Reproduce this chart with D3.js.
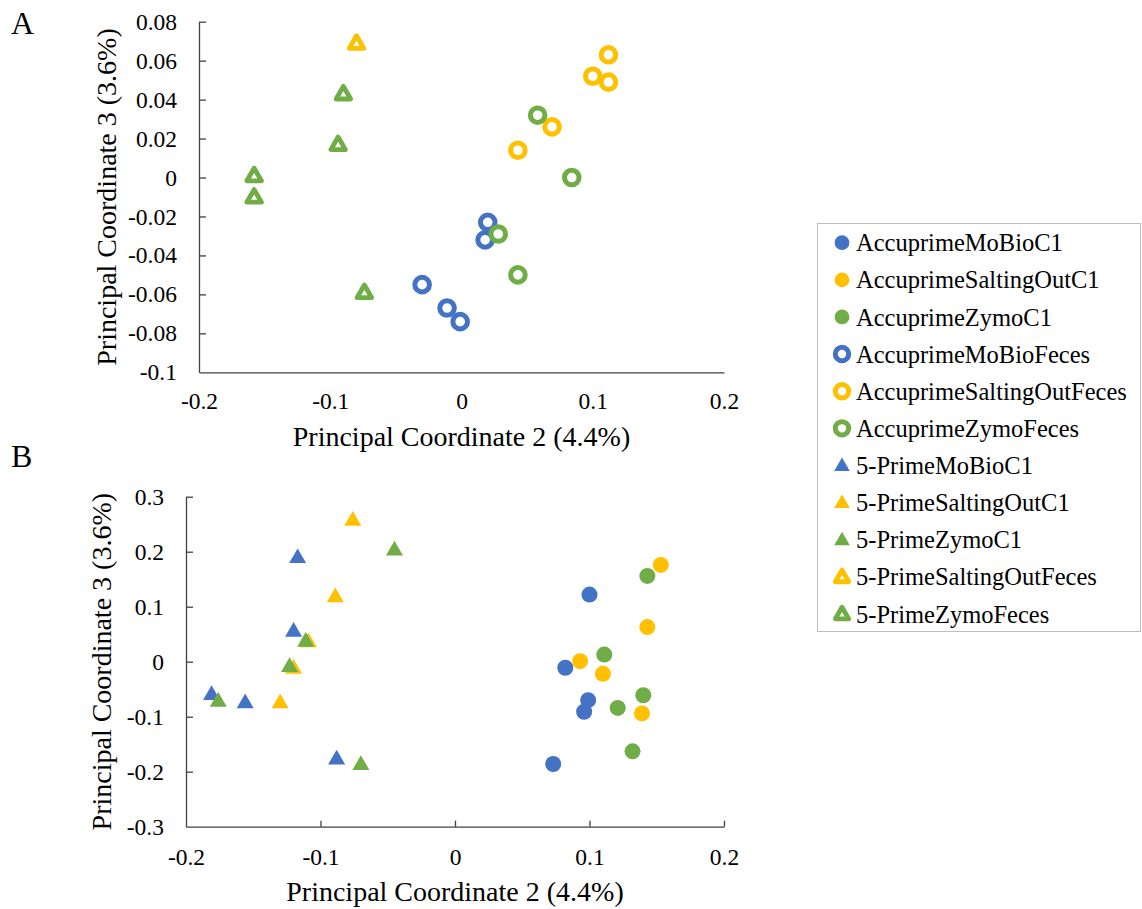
<!DOCTYPE html>
<html>
<head>
<meta charset="utf-8">
<script src="https://cdn.jsdelivr.net/npm/d3@7"></script>
<style>
  body { margin: 0; background: #fff; }
  svg text { font-family: "Liberation Serif", "Times New Roman", serif; fill: #000; }
  .tick text { font-size: 23.5px; }
</style>
</head>
<body>
<div id="chart"></div>
<script>
// series names, in legend order
const seriesNames = [
  "AccuprimeMoBioC1", "AccuprimeSaltingOutC1", "AccuprimeZymoC1",
  "AccuprimeMoBioFeces", "AccuprimeSaltingOutFeces", "AccuprimeZymoFeces",
  "5-PrimeMoBioC1", "5-PrimeSaltingOutC1", "5-PrimeZymoC1",
  "5-PrimeSaltingOutFeces", "5-PrimeZymoFeces"
];

// panel A values [PC2, PC3]
const aMoBioFeces = [[0.020, -0.023], [0.018, -0.032], [-0.030, -0.055], [-0.011, -0.067], [-0.001, -0.074]];
const aSaltingOutFeces = [[0.112, 0.063], [0.100, 0.052], [0.112, 0.049], [0.069, 0.026], [0.043, 0.014]];
const aZymoFeces = [[0.058, 0.032], [0.084, 0.000], [0.028, -0.029], [0.043, -0.050]];
const pSaltingOutFecesA = [[-0.080, 0.069]];
const pZymoFecesA = [[-0.090, 0.043], [-0.094, 0.017], [-0.158, 0.001], [-0.158, -0.010], [-0.074, -0.059]];

// panel B values [PC2, PC3]
const bMoBioC1 = [[0.100, 0.122], [0.082, -0.011], [0.099, -0.070], [0.096, -0.091], [0.073, -0.186]];
const bSaltingOutC1 = [[0.153, 0.176], [0.143, 0.063], [0.093, 0.001], [0.110, -0.022], [0.139, -0.094]];
const bZymoC1 = [[0.143, 0.156], [0.111, 0.013], [0.140, -0.061], [0.121, -0.084], [0.132, -0.163]];
const pMoBioC1 = [[-0.117, 0.190], [-0.120, 0.056], [-0.181, -0.059], [-0.156, -0.074], [-0.088, -0.176]];
const pSaltingOutC1 = [[-0.076, 0.258], [-0.089, 0.119], [-0.109, 0.037], [-0.120, -0.011], [-0.130, -0.074]];
const pZymoC1 = [[-0.045, 0.204], [-0.111, 0.038], [-0.123, -0.008], [-0.176, -0.071], [-0.070, -0.186]];

const xTicks = [-0.2, -0.1, 0, 0.1, 0.2];
const yTicksA = [-0.1, -0.08, -0.06, -0.04, -0.02, 0, 0.02, 0.04, 0.06, 0.08];
const yTicksB = [-0.3, -0.2, -0.1, 0, 0.1, 0.2, 0.3];

const xTitle = "Principal Coordinate 2 (4.4%)";
const yTitle = "Principal Coordinate 3 (3.6%)";

// marker style per series
const BLUE = "#4472C4", ORANGE = "#FFC000", GREEN = "#70AD47";
const style = {
  "AccuprimeMoBioC1":         { color: BLUE,   shape: "circle",   hollow: false },
  "AccuprimeSaltingOutC1":    { color: ORANGE, shape: "circle",   hollow: false },
  "AccuprimeZymoC1":          { color: GREEN,  shape: "circle",   hollow: false },
  "AccuprimeMoBioFeces":      { color: BLUE,   shape: "circle",   hollow: true },
  "AccuprimeSaltingOutFeces": { color: ORANGE, shape: "circle",   hollow: true },
  "AccuprimeZymoFeces":       { color: GREEN,  shape: "circle",   hollow: true },
  "5-PrimeMoBioC1":           { color: BLUE,   shape: "triangle", hollow: false },
  "5-PrimeSaltingOutC1":      { color: ORANGE, shape: "triangle", hollow: false },
  "5-PrimeZymoC1":            { color: GREEN,  shape: "triangle", hollow: false },
  "5-PrimeSaltingOutFeces":   { color: ORANGE, shape: "triangle", hollow: true },
  "5-PrimeZymoFeces":         { color: GREEN,  shape: "triangle", hollow: true }
};

const panelAData = [
  ["AccuprimeMoBioFeces", aMoBioFeces],
  ["AccuprimeSaltingOutFeces", aSaltingOutFeces],
  ["AccuprimeZymoFeces", aZymoFeces],
  ["5-PrimeSaltingOutFeces", pSaltingOutFecesA],
  ["5-PrimeZymoFeces", pZymoFecesA]
];
const panelBData = [
  ["AccuprimeMoBioC1", bMoBioC1],
  ["AccuprimeSaltingOutC1", bSaltingOutC1],
  ["AccuprimeZymoC1", bZymoC1],
  ["5-PrimeMoBioC1", pMoBioC1],
  ["5-PrimeSaltingOutC1", pSaltingOutC1],
  ["5-PrimeZymoC1", pZymoC1]
];

const W = 1142, H = 909;
const svg = d3.select("#chart").append("svg")
  .attr("width", W).attr("height", H);

const fmt = v => String(+v.toFixed(2));

// draws one marker into g at (0,0)
function marker(g, s, scale) {
  if (s.shape === "circle") {
    if (s.hollow) {
      g.append("circle").attr("r", 7.3 * scale)
        .attr("fill", "#fff").attr("stroke", s.color).attr("stroke-width", 5);
    } else {
      g.append("circle").attr("r", 8 * scale).attr("fill", s.color);
    }
  } else {
    if (s.hollow) {
      g.append("path")
        .attr("d", d3.symbol(d3.symbolTriangle, 92 * scale * scale)())
        .attr("transform", "translate(0,1)")
        .attr("fill", "#fff").attr("stroke", s.color)
        .attr("stroke-width", 4.8).attr("stroke-linejoin", "round");
    } else {
      g.append("path")
        .attr("d", d3.symbol(d3.symbolTriangle, 125 * scale * scale)())
        .attr("transform", "translate(0,1)")
        .attr("fill", s.color);
    }
  }
}

function panel(opts) {
  const { left, right, top, bottom, yDomain, yTicks, data, xTickSize, xPad, letter, letterY, yTitleX } = opts;
  const x = d3.scaleLinear().domain([-0.2, 0.2]).range([left, right]);
  const y = d3.scaleLinear().domain(yDomain).range([bottom, top]);

  // x axis
  const gx = svg.append("g").attr("transform", `translate(0,${bottom})`)
    .call(d3.axisBottom(x).tickValues(xTicks).tickFormat(fmt)
      .tickSizeInner(-xTickSize).tickSizeOuter(0).tickPadding(xPad));
  gx.attr("font-family", null).attr("font-size", null);
  gx.select(".domain").attr("stroke", "#404040").attr("stroke-width", 1.3);
  gx.selectAll(".tick line").attr("stroke", "#404040").attr("stroke-width", 1.3);
  if (xTickSize === 0) {
    gx.selectAll(".tick line").remove();
  } else {
    gx.selectAll(".tick").filter(d => d === -0.2).select("line").remove();
  }
  gx.selectAll(".tick text").attr("dy", "0.32em");

  // y axis
  const gy = svg.append("g").attr("transform", `translate(${left},0)`)
    .call(d3.axisLeft(y).tickValues(yTicks).tickFormat(fmt)
      .tickSizeInner(-7).tickSizeOuter(0).tickPadding(22));
  gy.attr("font-family", null).attr("font-size", null);
  gy.select(".domain").attr("stroke", "#404040").attr("stroke-width", 1.3);
  gy.selectAll(".tick line").attr("stroke", "#404040").attr("stroke-width", 1.3);
  gy.selectAll(".tick").filter(d => d === yDomain[0]).select("line").remove();

  // titles
  svg.append("text").attr("x", (left + right) / 2).attr("y", bottom + 74)
    .attr("text-anchor", "middle").attr("font-size", 28).text(xTitle);
  svg.append("text")
    .attr("transform", `translate(${yTitleX},${(top + bottom) / 2}) rotate(-90)`)
    .attr("text-anchor", "middle").attr("font-size", 28).text(yTitle);
  svg.append("text").attr("x", 11).attr("y", letterY)
    .attr("font-size", 32).text(letter);

  // points
  data.forEach(([name, pts]) => {
    const s = style[name];
    pts.forEach(p => {
      const g = svg.append("g").attr("transform", `translate(${x(p[0])},${y(p[1])})`);
      marker(g, s, 1);
    });
  });
}

panel({
  left: 199, right: 724, top: 21.7, bottom: 372.3,
  yDomain: [-0.1, 0.08], yTicks: yTicksA, data: panelAData,
  xTickSize: 0, xPad: 29, letter: "A", letterY: 34, yTitleX: 116
});
panel({
  left: 186, right: 724, top: 496.7, bottom: 826.7,
  yDomain: [-0.3, 0.3], yTicks: yTicksB, data: panelBData,
  xTickSize: 6, xPad: 31, letter: "B", letterY: 467, yTitleX: 111
});

// legend
const lg = svg.append("g");
lg.append("rect").attr("x", 817.5).attr("y", 223.5).attr("width", 323).attr("height", 408)
  .attr("fill", "#fff").attr("stroke", "#BFBFBF").attr("stroke-width", 1);
const rowY = d3.scalePoint().domain(seriesNames).range([242.7, 614]);
seriesNames.forEach(name => {
  const g = lg.append("g").attr("transform", `translate(842,${rowY(name)})`);
  marker(g, style[name], 0.92);
  lg.append("text").attr("x", 856).attr("y", rowY(name)).attr("dy", "0.35em")
    .attr("font-size", 24.5).text(name);
});
</script>
</body>
</html>
